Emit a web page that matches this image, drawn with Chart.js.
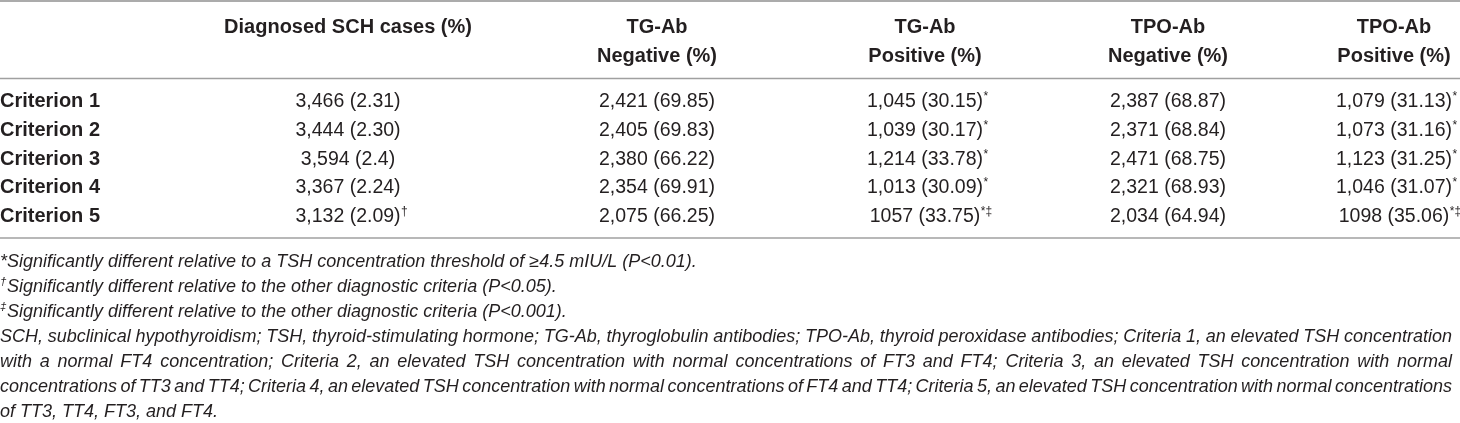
<!DOCTYPE html>
<html>
<head>
<meta charset="utf-8">
<script src="https://cdn.jsdelivr.net/npm/chart.js@4.4.1/dist/chart.umd.min.js"></script>
<style>
html,body{margin:0;padding:0;background:#ffffff;}
#wrap{width:1460px;height:423px;position:relative;}
</style>
</head>
<body>
<div id="wrap"><canvas id="c" width="1460" height="423"></canvas></div>
<script>
// ---------- DATA ----------
const rowLabels = ['Criterion 1', 'Criterion 2', 'Criterion 3', 'Criterion 4', 'Criterion 5'];
const headerTop = ['Diagnosed SCH cases (%)', 'TG-Ab', 'TG-Ab', 'TPO-Ab', 'TPO-Ab'];
const headerBottom = ['', 'Negative (%)', 'Positive (%)', 'Negative (%)', 'Positive (%)'];

const diagnosedCount = ['3,466', '3,444', '3,594', '3,367', '3,132'];
const diagnosedPct   = ['2.31', '2.30', '2.4', '2.24', '2.09'];
const diagnosedMark  = ['', '', '', '', '\u2020'];

const tgNegCount = ['2,421', '2,405', '2,380', '2,354', '2,075'];
const tgNegPct   = ['69.85', '69.83', '66.22', '69.91', '66.25'];

const tgPosCount = ['1,045', '1,039', '1,214', '1,013', '1057'];
const tgPosPct   = ['30.15', '30.17', '33.78', '30.09', '33.75'];
const tgPosMark  = ['*', '*', '*', '*', '*\u2021'];

const tpoNegCount = ['2,387', '2,371', '2,471', '2,321', '2,034'];
const tpoNegPct   = ['68.87', '68.84', '68.75', '68.93', '64.94'];

const tpoPosCount = ['1,079', '1,073', '1,123', '1,046', '1098'];
const tpoPosPct   = ['31.13', '31.16', '31.25', '31.07', '35.06'];
const tpoPosMark  = ['*', '*', '*', '*', '*\u2021'];

const footnoteMarks = ['', '\u2020', '\u2021', '', '', '', ''];
const footnoteLines = [
  '*Significantly different relative to a TSH concentration threshold of \u22654.5 mIU/L (P<0.01).',
  'Significantly different relative to the other diagnostic criteria (P<0.05).',
  'Significantly different relative to the other diagnostic criteria (P<0.001).',
  'SCH, subclinical hypothyroidism; TSH, thyroid-stimulating hormone; TG-Ab, thyroglobulin antibodies; TPO-Ab, thyroid peroxidase antibodies; Criteria 1, an elevated TSH concentration',
  'with a normal FT4 concentration; Criteria 2, an elevated TSH concentration with normal concentrations of FT3 and FT4; Criteria 3, an elevated TSH concentration with normal',
  'concentrations of TT3 and TT4; Criteria 4, an elevated TSH concentration with normal concentrations of FT4 and TT4; Criteria 5, an elevated TSH concentration with normal concentrations',
  'of TT3, TT4, FT3, and FT4.'
];

// ---------- LAYOUT / STYLE (not data) ----------
const layout = {
  width: 1460, height: 423,
  colCenters: [0, 348, 657, 925, 1168, 1394],
  header1Y: 26, header2Y: 55,
  rowY0: 100, rowStep: 28.75,
  rules: [{y: 1, w: 2.2, c: '#ababab'}, {y: 78.5, w: 1.6, c: '#a0a0a0'}, {y: 238, w: 1.6, c: '#a0a0a0'}],
  footY0: 260, footStep: 25.1,
  justifyTo: 1452,
  justified: [false, false, false, true, true, true, false]
};
const FONT = '"Liberation Sans", Arial, Helvetica, sans-serif';
const INK = '#231f20';

const columns = [
  {count: diagnosedCount, pct: diagnosedPct, mark: diagnosedMark},
  {count: tgNegCount, pct: tgNegPct, mark: null},
  {count: tgPosCount, pct: tgPosPct, mark: tgPosMark},
  {count: tpoNegCount, pct: tpoNegPct, mark: null},
  {count: tpoPosCount, pct: tpoPosPct, mark: tpoPosMark}
];

const tablePlugin = {
  id: 'tableText',
  afterDraw(chart) {
    const ctx = chart.ctx;
    const xs = chart.scales.x, ys = chart.scales.y;
    const X = v => xs.getPixelForValue(v);
    const Y = v => ys.getPixelForValue(v);
    ctx.save();

    layout.rules.forEach(r => {
      ctx.strokeStyle = r.c; ctx.lineWidth = r.w;
      ctx.beginPath(); ctx.moveTo(X(0), Y(r.y)); ctx.lineTo(X(layout.width), Y(r.y)); ctx.stroke();
    });

    ctx.fillStyle = INK;
    ctx.textBaseline = 'alphabetic';

    ctx.font = 'bold 20px ' + FONT;
    ctx.textAlign = 'center';
    headerTop.forEach((t, i) => {
      ctx.fillText(t, X(layout.colCenters[i + 1]), Y(layout.header1Y) + 7);
      if (headerBottom[i]) ctx.fillText(headerBottom[i], X(layout.colCenters[i + 1]), Y(layout.header2Y) + 7);
    });

    ctx.textAlign = 'left';
    rowLabels.forEach((t, r) => {
      ctx.fillText(t, X(layout.colCenters[0]), Y(layout.rowY0 + r * layout.rowStep) + 7);
    });

    columns.forEach((col, ci) => {
      const cx = X(layout.colCenters[ci + 1]);
      col.count.forEach((cnt, r) => {
        const y = Y(layout.rowY0 + r * layout.rowStep) + 7;
        const txt = cnt + ' (' + col.pct[r] + ')';
        ctx.font = '19.5px ' + FONT;
        ctx.textAlign = 'center';
        ctx.fillText(txt, cx, y);
        const m = col.mark ? col.mark[r] : '';
        if (m) {
          const w = ctx.measureText(txt).width;
          ctx.font = '12px ' + FONT;
          ctx.textAlign = 'left';
          ctx.fillText(m, cx + w / 2 + 0.5, y - 7);
        }
      });
    });

    ctx.textAlign = 'left';
    footnoteLines.forEach((line, i) => {
      const y = Y(layout.footY0 + i * layout.footStep) + 6.5;
      let x = X(0);
      if (footnoteMarks[i]) {
        ctx.font = 'italic 11.5px ' + FONT;
        ctx.fillText(footnoteMarks[i], x, y - 6.5);
        x += ctx.measureText(footnoteMarks[i]).width + 0.5;
      }
      ctx.font = 'italic 18px ' + FONT;
      if (layout.justified[i]) {
        const words = line.split(' ');
        const wordsW = words.reduce((s, w) => s + ctx.measureText(w).width, 0);
        const gap = (X(layout.justifyTo) - x - wordsW) / (words.length - 1);
        words.forEach(w => { ctx.fillText(w, x, y); x += ctx.measureText(w).width + gap; });
      } else {
        ctx.fillText(line, x, y);
      }
    });

    ctx.restore();
  }
};

new Chart(document.getElementById('c'), {
  type: 'scatter',
  data: { datasets: [{ data: [], pointRadius: 0 }] },
  options: {
    responsive: false,
    animation: false,
    devicePixelRatio: 1,
    layout: { padding: 0 },
    plugins: { legend: { display: false }, tooltip: { enabled: false }, title: { display: false } },
    scales: {
      x: { type: 'linear', display: false, min: 0, max: layout.width },
      y: { type: 'linear', display: false, min: 0, max: layout.height, reverse: true }
    }
  },
  plugins: [tablePlugin]
});
</script>
</body>
</html>
